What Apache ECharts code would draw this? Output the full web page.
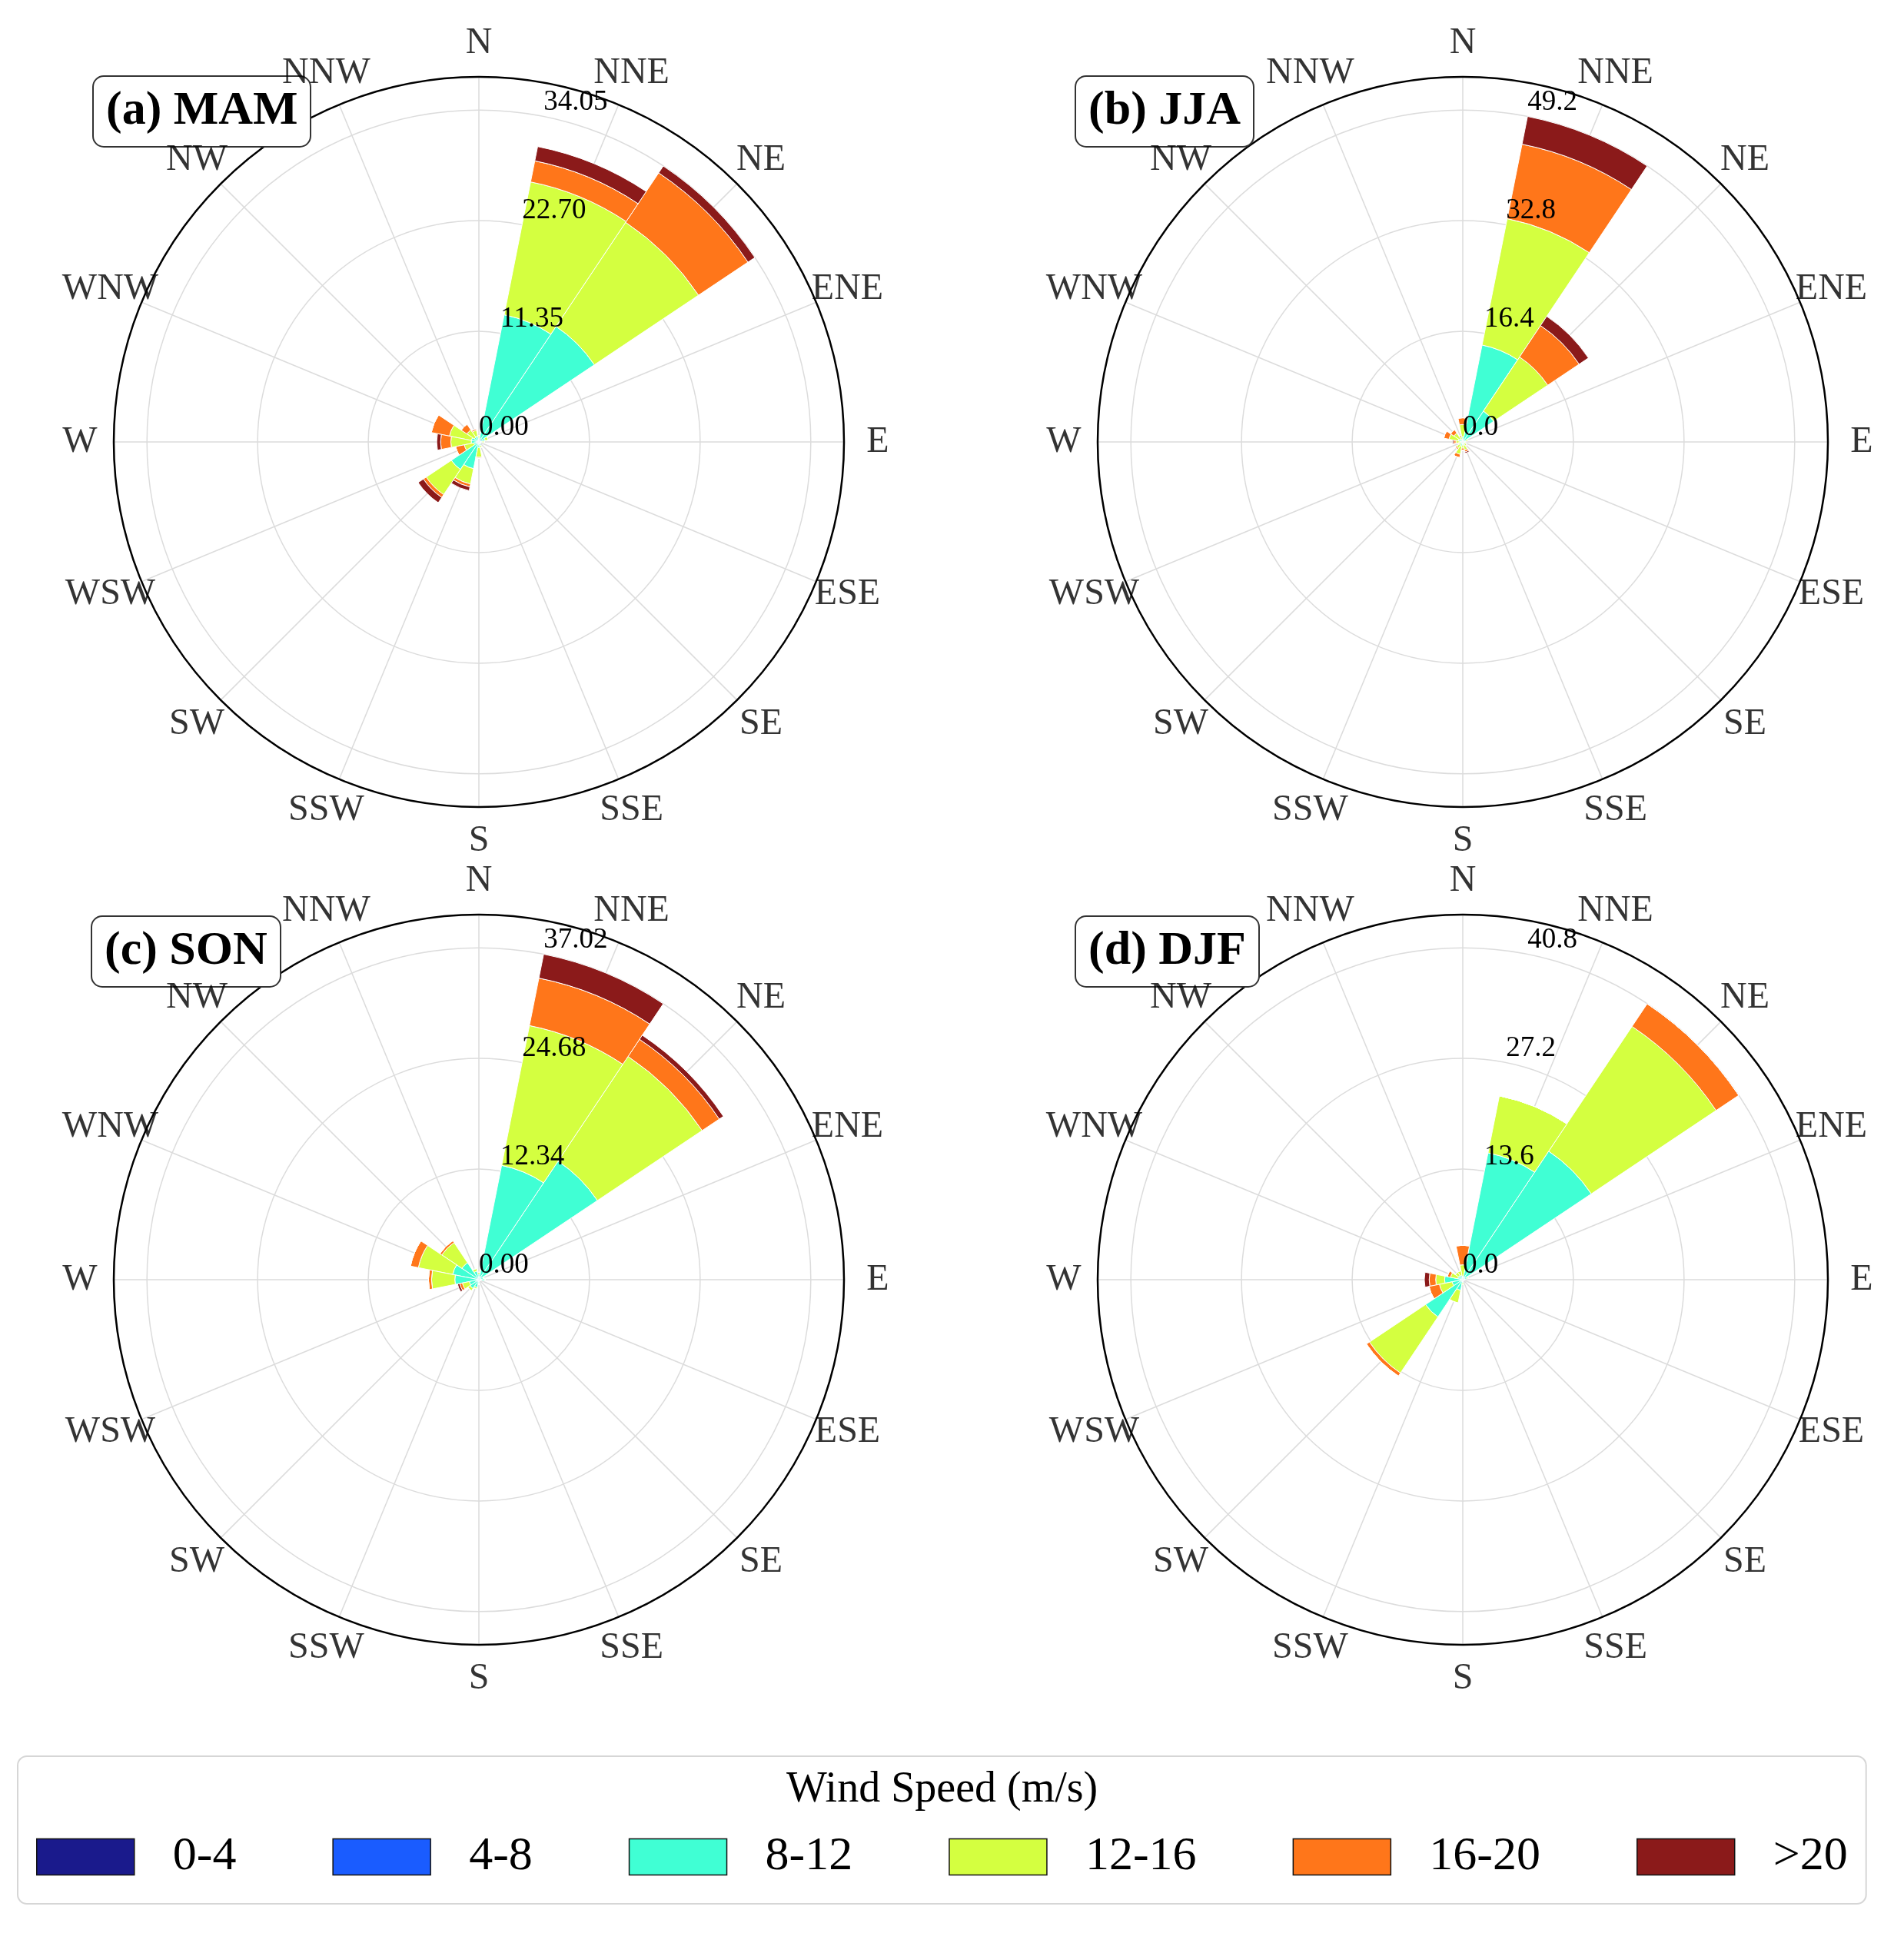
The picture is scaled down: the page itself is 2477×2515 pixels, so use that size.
<!DOCTYPE html>
<html>
<head>
<meta charset="utf-8">
<title>Seasonal wind roses</title>
<script src="https://cdn.jsdelivr.net/npm/echarts@6/dist/echarts.min.js"></script>
<style>
  html, body { margin: 0; padding: 0; background: #fff; }
  #chart { width: 2477px; height: 2515px; }
</style>
</head>
<body>
<div id="chart"></div>
<script>
// compass sectors, clockwise from north
const directions = ['N', 'NNE', 'NE', 'ENE', 'E', 'ESE', 'SE', 'SSE',
                    'S', 'SSW', 'SW', 'WSW', 'W', 'WNW', 'NW', 'NNW'];
const speedBins = ['0-4', '4-8', '8-12', '12-16', '16-20', '>20'];

// frequency (%) per speed bin, one row per bin, columns follow `directions`
const mam = [
  [0.02, 0.05, 0.05, 0.02, 0.01, 0.01, 0.01, 0.02, 0.03, 0.05, 0.05, 0.03, 0.03, 0.03, 0.03, 0.02],
  [0.10, 0.30, 0.30, 0.15, 0.08, 0.05, 0.05, 0.10, 0.15, 0.20, 0.25, 0.15, 0.15, 0.15, 0.15, 0.10],
  [0.30, 12.95, 13.90, 0.50, 0.25, 0.10, 0.10, 0.30, 0.40, 2.55, 3.10, 0.35, 0.60, 0.60, 0.40, 0.50],
  [0.20, 13.90, 12.85, 0.30, 0.20, 0.05, 0.05, 0.20, 1.00, 1.60, 3.10, 1.00, 2.10, 2.30, 0.90, 0.60],
  [0.00, 2.20, 6.10, 0.00, 0.00, 0.00, 0.00, 0.00, 0.10, 0.30, 0.35, 0.90, 1.05, 1.90, 0.70, 0.15],
  [0.00, 1.50, 0.85, 0.00, 0.00, 0.00, 0.00, 0.00, 0.00, 0.40, 0.65, 0.00, 0.40, 0.00, 0.00, 0.00]
];
const jja = [
  [0.03, 0.05, 0.05, 0.02, 0.01, 0.01, 0.01, 0.02, 0.02, 0.03, 0.02, 0.02, 0.02, 0.03, 0.03, 0.02],
  [0.15, 0.30, 0.30, 0.10, 0.05, 0.05, 0.05, 0.10, 0.10, 0.15, 0.10, 0.10, 0.10, 0.15, 0.15, 0.10],
  [0.60, 14.30, 5.15, 0.40, 0.20, 0.30, 0.30, 0.40, 0.30, 0.50, 0.40, 0.20, 0.30, 0.50, 0.40, 0.30],
  [1.80, 19.10, 9.65, 0.30, 0.10, 0.20, 0.30, 0.70, 0.50, 1.20, 0.60, 0.30, 0.60, 1.40, 1.00, 0.40],
  [1.00, 11.25, 5.60, 0.00, 0.00, 0.00, 0.10, 0.30, 0.30, 0.50, 0.20, 0.10, 0.30, 0.80, 0.60, 0.20],
  [0.00, 4.20, 1.65, 0.00, 0.00, 0.00, 0.00, 0.20, 0.10, 0.00, 0.00, 0.00, 0.20, 0.00, 0.00, 0.00]
];
const son = [
  [0.03, 0.05, 0.05, 0.02, 0.02, 0.01, 0.01, 0.01, 0.02, 0.03, 0.03, 0.03, 0.03, 0.03, 0.03, 0.03],
  [0.10, 0.30, 0.30, 0.10, 0.10, 0.05, 0.05, 0.05, 0.10, 0.15, 0.15, 0.15, 0.15, 0.15, 0.15, 0.15],
  [0.50, 12.65, 15.55, 0.40, 0.50, 0.20, 0.10, 0.10, 0.30, 0.70, 1.00, 0.90, 2.50, 2.80, 2.10, 0.80],
  [0.20, 15.90, 14.05, 0.10, 0.10, 0.00, 0.00, 0.00, 0.10, 0.20, 0.30, 0.80, 2.60, 3.90, 2.70, 0.30],
  [0.00, 5.40, 2.30, 0.00, 0.00, 0.00, 0.00, 0.00, 0.00, 0.00, 0.00, 0.30, 0.35, 0.90, 0.25, 0.00],
  [0.00, 2.72, 0.55, 0.00, 0.00, 0.00, 0.00, 0.00, 0.00, 0.00, 0.00, 0.25, 0.00, 0.00, 0.00, 0.00]
];
const djf = [
  [0.03, 0.05, 0.05, 0.02, 0.01, 0.01, 0.01, 0.01, 0.02, 0.03, 0.05, 0.03, 0.03, 0.03, 0.03, 0.03],
  [0.10, 0.30, 0.30, 0.10, 0.05, 0.05, 0.05, 0.05, 0.10, 0.10, 0.25, 0.10, 0.10, 0.10, 0.10, 0.10],
  [0.30, 15.55, 18.65, 0.40, 0.20, 0.10, 0.10, 0.10, 0.30, 1.20, 5.20, 1.20, 2.10, 0.50, 0.50, 0.40],
  [1.40, 7.15, 18.45, 0.20, 0.00, 0.00, 0.00, 0.00, 0.20, 1.60, 8.30, 1.60, 1.10, 0.90, 0.50, 0.60],
  [2.40, 0.00, 3.35, 0.00, 0.00, 0.00, 0.00, 0.00, 0.00, 0.00, 0.45, 1.30, 0.80, 0.40, 0.00, 0.00],
  [0.00, 0.00, 0.00, 0.00, 0.00, 0.00, 0.00, 0.00, 0.00, 0.00, 0.00, 0.00, 0.60, 0.00, 0.00, 0.00]
];

// radial tick labels of each panel
const ticksMam = [0, 11.35, 22.70, 34.05];
const ticksJja = [0, 16.4, 32.8, 49.2];
const ticksSon = [0, 12.34, 24.68, 37.02];
const ticksDjf = [0, 13.6, 27.2, 40.8];

const panelTitles = ['(a) MAM', '(b) JJA', '(c) SON', '(d) DJF'];

const FONT = "'Liberation Serif', 'Times New Roman', serif";
const binColors = ['#1a1a8c', '#1a5cff', '#40ffd4', '#d4ff40', '#ff761a', '#8b1a1a'];

const panels = [
  { values: mam, ticks: ticksMam, digits: 2, center: [623, 575], titlePos: [121, 99] },
  { values: jja, ticks: ticksJja, digits: 1, center: [1903, 575], titlePos: [1399, 99] },
  { values: son, ticks: ticksSon, digits: 2, center: [623, 1665], titlePos: [119, 1192] },
  { values: djf, ticks: ticksDjf, digits: 1, center: [1903, 1665], titlePos: [1399, 1192] }
];
const RADIUS = 475;
const LABEL_RADIUS = 519; // centre of the compass labels, px

// bar polar runs counter-clockwise from N so its radial axis sits just east of north
const ccwOrder = (arr) => [arr[0]].concat(arr.slice(1).reverse());

const polar = [];
const angleAxis = [];
const radiusAxis = [];
const series = [];
const title = [];

panels.forEach((p, k) => {
  const step = p.ticks[1];
  const top = p.ticks[p.ticks.length - 1];
  const rmax = top * 1.1;

  // grid polar: spokes on the 16 directions, rings on the ticks
  polar.push({ center: p.center, radius: RADIUS });
  angleAxis.push({
    polarIndex: 2 * k, type: 'value', min: 0, max: 360, interval: 22.5,
    startAngle: 90, clockwise: true,
    axisLine: { lineStyle: { color: '#000', width: 2.5 } },
    axisTick: { show: false },
    axisLabel: { show: false },
    splitLine: { lineStyle: { color: '#dcdcdc', width: 1.5 } },
    z: 0
  });
  radiusAxis.push({
    polarIndex: 2 * k, type: 'value', min: 0, max: rmax, interval: step,
    axisLine: { show: false }, axisTick: { show: false }, axisLabel: { show: false },
    splitLine: { lineStyle: { color: '#dcdcdc', width: 1.5 } },
    z: 0
  });

  // bar polar: stacked sectors and radial labels
  polar.push({ center: p.center, radius: RADIUS });
  angleAxis.push({
    polarIndex: 2 * k + 1, type: 'category', data: ccwOrder(directions),
    startAngle: 78.75, clockwise: false, boundaryGap: true,
    axisLine: { show: false }, axisTick: { show: false }, splitLine: { show: false },
    axisLabel: { show: false }
  });
  radiusAxis.push({
    polarIndex: 2 * k + 1, type: 'value', min: 0, max: rmax, interval: step,
    axisLine: { show: false }, axisTick: { show: false }, splitLine: { show: false },
    axisLabel: {
      margin: 0, align: 'left', verticalAlign: 'bottom',
      fontSize: 37, fontFamily: FONT, color: '#000',
      showMaxLabel: false,
      formatter: (v) => (v > top + 1e-6 ? '' : v.toFixed(p.digits))
    },
    z: 10
  });

  speedBins.forEach((bin, b) => {
    series.push({
      type: 'bar', name: bin, coordinateSystem: 'polar', polarIndex: 2 * k + 1,
      stack: 'season' + k, data: ccwOrder(p.values[b]),
      barCategoryGap: '0%',
      itemStyle: { color: binColors[b], borderColor: '#fff', borderWidth: 1 },
      emphasis: { disabled: true },
      z: 2
    });
  });

  // compass names, centred just outside the rim
  const rLabel = rmax * LABEL_RADIUS / RADIUS;
  series.push({
    type: 'scatter', name: 'compass', coordinateSystem: 'polar', polarIndex: 2 * k,
    data: directions.map((d, i) => [rLabel, i * 22.5]),
    symbolSize: 1, clip: false, silent: true,
    itemStyle: { color: 'rgba(0,0,0,0)' },
    label: {
      show: true, position: 'inside', align: 'center', verticalAlign: 'middle',
      formatter: (q) => directions[q.dataIndex],
      fontSize: 48, fontFamily: FONT, color: '#000'
    },
    z: 10
  });

  title.push({
    text: panelTitles[k], left: p.titlePos[0], top: p.titlePos[1],
    padding: [15, 17], backgroundColor: '#fff',
    borderColor: '#333', borderWidth: 2, borderRadius: 14,
    textStyle: { fontSize: 62, fontWeight: 'bold', fontFamily: FONT, color: '#000' },
    z: 5
  });
});

title.push({
  text: 'Wind Speed (m/s)', left: 1018, top: 2296,
  textStyle: { fontSize: 56, fontWeight: 'normal', fontFamily: FONT, color: '#000' },
  z: 6
});

const chart = echarts.init(document.getElementById('chart'), null, { renderer: 'canvas' });
chart.setOption({
  backgroundColor: '#fff',
  animation: false,
  textStyle: { fontFamily: FONT },
  color: binColors,
  title: title,
  polar: polar,
  angleAxis: angleAxis,
  radiusAxis: radiusAxis,
  legend: {
    data: speedBins, left: 23, top: 2285,
    orient: 'horizontal', icon: 'rect',
    itemWidth: 127, itemHeight: 47, itemGap: 125,
    padding: [100, 24, 30, 24],
    backgroundColor: '#fff', borderColor: '#d6d6d6', borderWidth: 2, borderRadius: 12,
    selectedMode: false,
    itemStyle: { borderColor: '#111', borderWidth: 1.5 },
    textStyle: { fontSize: 62, fontFamily: FONT, color: '#000', padding: [0, 0, 0, 45] }
  },
  tooltip: { show: false },
  series: series
});
</script>
</body>
</html>
